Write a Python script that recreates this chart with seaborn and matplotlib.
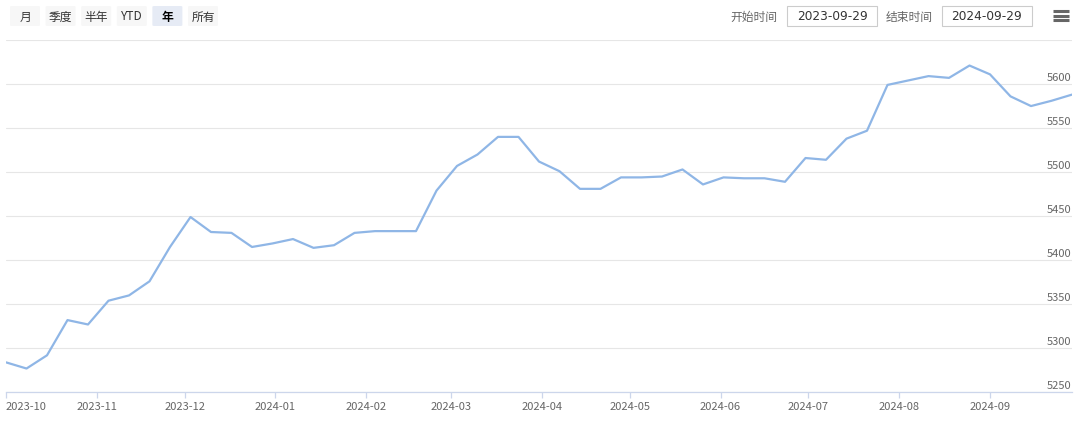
import numpy as np
import pandas as pd
import seaborn as sns
import matplotlib
matplotlib.use("Agg")
import matplotlib.pyplot as plt
import matplotlib.transforms as mtransforms
from matplotlib.patches import FancyBboxPatch, Rectangle

# ---------------- data ----------------
values = [5284, 5277, 5292, 5332, 5327, 5354, 5360, 5376, 5415, 5449,
          5432, 5431, 5415, 5419, 5424, 5414, 5417, 5431, 5433, 5433,
          5433, 5479, 5507, 5520, 5540, 5540, 5512, 5501, 5481, 5481,
          5494, 5494, 5495, 5503, 5486, 5494, 5493, 5493, 5489, 5516,
          5514, 5538, 5547, 5599, 5604, 5609, 5607, 5621, 5611, 5586,
          5575, 5581, 5588]
dates = pd.date_range("2023-10-01", periods=len(values), freq="7D")
y_ticks = [5250, 5300, 5350, 5400, 5450, 5500, 5550, 5600]
y_top = 5650
month_ticks = pd.date_range("2023-10-01", "2024-09-01", freq="MS")
range_buttons = ["月", "季度", "半年", "YTD", "年", "所有"]
selected_button = "年"
start_label, start_date = "开始时间", "2023-09-29"
end_label, end_date = "结束时间", "2024-09-29"

# ---------------- style ----------------
sns.set_theme(style="white")
plt.rcParams['font.family'] = ['Noto Sans CJK SC', 'DejaVu Sans']

W, H = 1080, 423
fig = plt.figure(figsize=(W / 100, H / 100), dpi=100)
fig.patch.set_facecolor("white")


def fx(px):
    return px / W


def fy(py):
    return 1 - py / H


ax = fig.add_axes([fx(6), fy(392.3), fx(1072 - 6), (392.3 - 40) / H])
df = pd.DataFrame({"date": dates, "value": values})
sns.lineplot(data=df, x="date", y="value", ax=ax, color="#8fb6e6", linewidth=1.6)

ax.set_xlim(dates[0], dates[-1])
ax.set_ylim(y_ticks[0], y_top)
ax.set_xlabel("")
ax.set_ylabel("")

# grid lines
ax.set_yticks(y_ticks + [y_top])
ax.grid(axis="y", color="#e6e6e6", linewidth=0.8)
ax.grid(axis="x", visible=False)
ax.tick_params(axis="y", left=False, right=False, labelleft=False, labelright=False)

# y labels above their grid lines, on the right inside
ytrans = mtransforms.offset_copy(ax.get_yaxis_transform(), fig=fig, x=-1, y=6, units="dots")
for v in y_ticks:
    ax.text(1, v, f"{v}", transform=ytrans, ha="right", va="center",
            fontsize=8, color="#666666")

for s in ["top", "left", "right"]:
    ax.spines[s].set_visible(False)
ax.spines["bottom"].set_color("#ccd6eb")
ax.spines["bottom"].set_linewidth(0.9)

ax.set_xticks(month_ticks)
ax.set_xticklabels([d.strftime("%Y-%m") for d in month_ticks])
ax.tick_params(axis="x", direction="out", length=4.5, width=0.9, color="#ccd6eb",
               labelsize=8, labelcolor="#666666", pad=2.5, bottom=True)
lab0 = ax.get_xticklabels()[0]
lab0.set_ha("left")

# ---------------- toolbar ----------------
bx0, bstep, bw, by0, bh = 10, 35.6, 30, 6, 20
for i, name in enumerate(range_buttons):
    x = bx0 + i * bstep
    sel = name == selected_button
    fig.add_artist(FancyBboxPatch((fx(x), fy(by0 + bh)), fx(bw), bh / H,
                                  boxstyle="round,pad=0,rounding_size=0.002",
                                  transform=fig.transFigure,
                                  facecolor="#e6ebf5" if sel else "#f7f7f7",
                                  edgecolor="none"))
    fig.text(fx(x + bw / 2), fy(20.5), name, ha="center", va="baseline",
             fontsize=8.5, color="#000000" if sel else "#333333",
             fontweight="bold" if sel else "normal")

# date inputs
fig.text(fx(777), fy(20.5), start_label, ha="right", va="baseline", fontsize=8.5, color="#666666")
fig.add_artist(Rectangle((fx(787), fy(26)), fx(90), 20 / H, transform=fig.transFigure,
                         facecolor="white", edgecolor="#cccccc", linewidth=0.8))
fig.text(fx(832), fy(20.3), start_date, ha="center", va="baseline", fontsize=8.7,
         color="#333333", family="DejaVu Sans")

fig.text(fx(933), fy(20.5), end_label, ha="right", va="baseline", fontsize=8.5, color="#666666")
fig.add_artist(Rectangle((fx(942), fy(26)), fx(90), 20 / H, transform=fig.transFigure,
                         facecolor="white", edgecolor="#cccccc", linewidth=0.8))
fig.text(fx(987), fy(20.3), end_date, ha="center", va="baseline", fontsize=8.7,
         color="#333333", family="DejaVu Sans")

# hamburger menu icon
for yy in (11.5, 16, 20.5):
    fig.add_artist(plt.Line2D([fx(1053), fx(1069)], [fy(yy), fy(yy)],
                              transform=fig.transFigure, color="#666666",
                              linewidth=2.2, solid_capstyle="butt"))

fig.savefig("out.png", dpi=100, facecolor="white")
